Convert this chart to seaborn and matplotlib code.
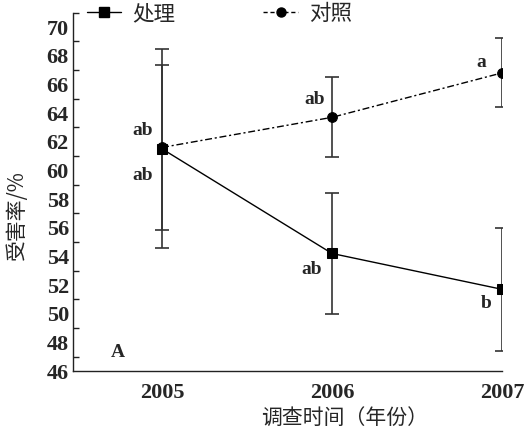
import matplotlib
matplotlib.use("Agg")
import matplotlib.pyplot as plt
import seaborn as sns
import pandas as pd
from matplotlib.lines import Line2D
from matplotlib.ticker import MultipleLocator

# Survey years and series
years = [2005, 2006, 2007]
treat_mean = [61.5, 54.2, 51.7]
treat_err = [6.95, 4.25, 4.3]
ctrl_mean = [61.6, 63.7, 66.8]
ctrl_err = [5.75, 2.8, 2.4]
treat_letters = ["ab", "ab", "b"]
ctrl_letters = ["ab", "ab", "a"]
series_names = ["处理", "对照"]
x_label = "调查时间（年份）"
y_label = "受害率/%"
panel_tag = "A"

sns.set_theme(style="white")
plt.rcParams["font.family"] = ["Liberation Serif", "Noto Sans CJK SC", "DejaVu Sans"]

df = pd.DataFrame({
    "year": years * 2,
    "rate": treat_mean + ctrl_mean,
    "group": [series_names[0]] * 3 + [series_names[1]] * 3,
})

fig = plt.figure(figsize=(5.28, 4.40), dpi=100)
ax = fig.add_axes([73 / 528, 1 - 371 / 440, (502 - 73) / 528, (371 - 12.7) / 440])

dash_ctrl = (5, 2, 1.5, 2)
sns.lineplot(data=df, x="year", y="rate", hue="group", style="group",
             palette=["black", "black"], markers=["s", "o"],
             dashes=["", dash_ctrl],
             markersize=7, linewidth=1.0, markeredgecolor="black",
             legend=False, ax=ax)

# error bars
ax.errorbar(years, treat_mean, yerr=treat_err, fmt="none", ecolor="#333333",
            elinewidth=1.2, capsize=5, capthick=1.2, zorder=1)
ax.errorbar(years, ctrl_mean, yerr=ctrl_err, fmt="none", ecolor="#333333",
            elinewidth=1.2, capsize=5, capthick=1.2, zorder=1)

ax.set_xlim(2004.476, 2007.0)
ax.set_ylim(46, 71)
ax.set_xticks(years)
ax.set_xticklabels([str(y) for y in years])
ax.yaxis.set_major_locator(MultipleLocator(2))
ax.yaxis.set_minor_locator(MultipleLocator(1))
ax.set_yticks(range(46, 71, 2))

for s in ["top", "right"]:
    ax.spines[s].set_visible(False)
for s in ["left", "bottom"]:
    ax.spines[s].set_color("#222222")
    ax.spines[s].set_linewidth(1.0)

ax.tick_params(axis="both", which="major", direction="in", length=6, width=1.0,
               color="#222222", labelsize=16, pad=3)
ax.tick_params(axis="y", which="minor", direction="in", length=4, width=1.0,
               color="#222222", left=True)
ax.tick_params(axis="x", which="major", pad=9)
for lab in ax.get_xticklabels() + ax.get_yticklabels():
    lab.set_fontweight("bold")

ax.set_xlabel(x_label, fontsize=15, family=["Noto Sans CJK SC"])
ax.set_ylabel(y_label, fontsize=15, family=["Noto Sans CJK SC"])
ax.xaxis.set_label_coords(0.634, -0.1)
ax.yaxis.set_label_coords(-0.105, 0.435)

# significance letters
px = 0.72
ctrl_off = [(-19, 17), (-17, 18), (-21, 10)]
treat_off = [(-19, -27), (-20, -16.5), (-16, -14)]
for yr, m, t, (dx, dy) in zip(years, ctrl_mean, ctrl_letters, ctrl_off):
    ax.annotate(t, (yr, m), xytext=(dx * px, dy * px), textcoords="offset points",
                ha="center", va="center", fontsize=14, fontweight="bold")
for yr, m, t, (dx, dy) in zip(years, treat_mean, treat_letters, treat_off):
    ax.annotate(t, (yr, m), xytext=(dx * px, dy * px), textcoords="offset points",
                ha="center", va="center", fontsize=14, fontweight="bold")

ax.text(0.105, 0.053, panel_tag, transform=ax.transAxes, ha="center", va="center",
        fontsize=14, fontweight="bold")

handles = [
    Line2D([], [], color="black", lw=1.0, marker="s", markersize=7),
    Line2D([], [], color="black", lw=1.0, marker="o", markersize=6.5,
           dashes=(3, 2)),
]
fig.legend(handles, series_names, loc="center left", bbox_to_anchor=(87 / 528, 1 - 14 / 440),
           ncol=2, frameon=False, handlelength=1.6, handletextpad=0.5,
           columnspacing=4.1, borderaxespad=0, borderpad=0,
           prop={"family": "Noto Sans CJK SC", "size": 15.5})

fig.savefig("out.png", dpi=100)
